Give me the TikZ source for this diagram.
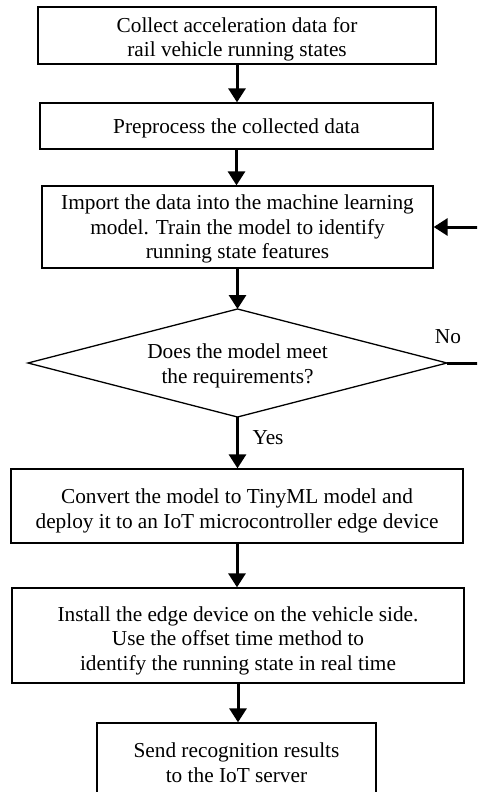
\documentclass[tikz,border=0pt]{standalone}
\usepackage{fontspec}
\setmainfont{Liberation Serif}
\usetikzlibrary{arrows.meta}
\begin{document}
\begin{tikzpicture}[x=1pt,y=-1pt,
  box/.style={draw, line width=1.3pt, inner sep=0pt},
  txt/.style={align=center, inner sep=0pt, font=\fontsize{21.3}{24.5}\selectfont},
  flow/.style={line width=3pt, -{Triangle[width=17pt,length=14pt]}},
  dline/.style={line width=1.3pt, line join=miter}]
\clip (0,0) rectangle (477,792);
\fill[white] (0,0) rectangle (477,792);
\node[box, minimum width=398pt, minimum height=57pt] (b1) at (237,35.5) {};
\node[txt] (t1) at ([yshift=-4pt]b1.center) {Collect acceleration data for\\rail vehicle running states};
\node[box, minimum width=393pt, minimum height=46pt] (b2) at (236.5,126) {};
\node[txt] (t2) at ([yshift=-2pt]b2.center) {Preprocess the collected data};
\node[box, minimum width=391pt, minimum height=82pt] (b3) at (237.5,227) {};
\node[txt] (t3) at ([yshift=-2pt]b3.center) {Import the data into the machine learning\\model. Train the model to identify\\running state features};
\coordinate (dT) at (237.5,309);
\coordinate (dR) at (447,363);
\coordinate (dB) at (237.5,417);
\coordinate (dL) at (28,363);
\draw[dline] (dT) -- (dR) -- (dB) -- (dL) -- cycle;
\node[txt] (dec) at (237.5,366) {Does the model meet\\the requirements?};
\node[box, minimum width=452pt, minimum height=74pt] (b4) at (237,506) {};
\node[txt] (t4) at ([yshift=-5pt]b4.center) {Convert the model to TinyML model and\\deploy it to an IoT microcontroller edge device};
\node[box, minimum width=452pt, minimum height=95pt] (b5) at (238,635.5) {};
\node[txt] (t5) at ([yshift=-5pt]b5.center) {Install the edge device on the vehicle side.\\Use the offset time method to\\identify the running state in real time};
\node[box, minimum width=279pt, minimum height=75pt] (b6) at (236.5,760.5) {};
\node[txt] (t6) at ([yshift=-2pt]b6.center) {Send recognition results\\to the IoT server};
\node[txt] (yes) at (268,438) {Yes};
\node[txt] (no) at (448,337) {No};
\coordinate (fb) at (495,363);
\draw[flow] (b1.south) -- (b1.south |- b2.north);
\draw[flow] (b2.south) -- (b2.south |- b3.north);
\draw[flow] (b3.south) -- (b3.south |- dT);
\draw[flow] (dB) -- (dB |- b4.north);
\draw[flow] (b4.south) -- (b4.south |- b5.north);
\draw[flow] (b5.south) -- (b5.south |- b6.north);
\draw[flow] (dR) -- (fb) |- (b3.east);
\end{tikzpicture}
\end{document}
